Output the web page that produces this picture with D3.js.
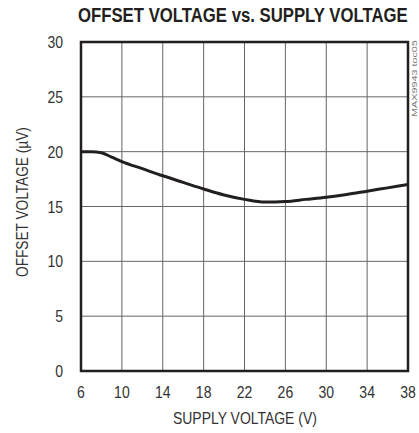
<!DOCTYPE html>
<html><head><meta charset="utf-8">
<script src="https://cdn.jsdelivr.net/npm/d3@7"></script>
<style>body{margin:0;background:#fff}svg{display:block}</style>
</head><body>
<script>
const supplyV = [6, 7, 8, 9, 10, 12, 14, 16, 18, 20, 22, 24, 26, 28, 30, 32, 34, 36, 38];
const offsetUV = [20.0, 20.0, 19.9, 19.5, 19.1, 18.45, 17.8, 17.2, 16.6, 16.05, 15.65, 15.4, 15.45, 15.65, 15.85, 16.1, 16.4, 16.7, 17.0];
const xTicks = [6, 10, 14, 18, 22, 26, 30, 34, 38];
const yTicks = [0, 5, 10, 15, 20, 25, 30];
const title = "OFFSET VOLTAGE vs. SUPPLY VOLTAGE";
const xTitle = "SUPPLY VOLTAGE (V)";
const yTitle = "OFFSET VOLTAGE (µV)";
const tag = "MAX9943 toc05";

const W = 419, H = 433;
const m = {l: 81, r: 408, t: 42, b: 371};
const svg = d3.select("body").append("svg").attr("width", W).attr("height", H);
const x = d3.scaleLinear().domain([6, 38]).range([m.l, m.r]);
const y = d3.scaleLinear().domain([0, 30]).range([m.b, m.t]);
const font = "'Liberation Sans', Arial, sans-serif";
const txt = "#333";

// grid
svg.append("g").selectAll("line").data(xTicks.slice(1, -1)).join("line")
  .attr("x1", d => x(d)).attr("x2", d => x(d)).attr("y1", m.t).attr("y2", m.b)
  .attr("stroke", "#666").attr("stroke-width", 1);
svg.append("g").selectAll("line").data(yTicks.slice(1, -1)).join("line")
  .attr("y1", d => y(d)).attr("y2", d => y(d)).attr("x1", m.l).attr("x2", m.r)
  .attr("stroke", "#666").attr("stroke-width", 1);

// curve
svg.append("path").datum(supplyV.map((v, i) => [v, offsetUV[i]]))
  .attr("d", d3.line().x(d => x(d[0])).y(d => y(d[1])).curve(d3.curveMonotoneX))
  .attr("fill", "none").attr("stroke", "#231f20").attr("stroke-width", 3);

// border
svg.append("rect").attr("x", m.l).attr("y", m.t).attr("width", m.r - m.l).attr("height", m.b - m.t)
  .attr("fill", "none").attr("stroke", "#231f20").attr("stroke-width", 2.5);

// tick labels
svg.append("g").selectAll("text").data(yTicks).join("text")
  .attr("transform", d => `translate(63,${y(d) + 6}) scale(0.85,1)`).attr("text-anchor", "end")
  .attr("font-family", font).attr("font-size", 16.5).attr("fill", txt).text(d => d);
svg.append("g").selectAll("text").data(xTicks).join("text")
  .attr("transform", d => `translate(${x(d)},398) scale(0.85,1)`).attr("text-anchor", "middle")
  .attr("font-family", font).attr("font-size", 16.5).attr("fill", txt).text(d => d);

// fitted text: scale horizontally to a target width
function fitted(str, tx, ty, rot, width, size, weight, fill) {
  const t = svg.append("text").attr("font-family", font).attr("font-size", size)
    .attr("font-weight", weight).attr("fill", fill).text(str);
  const nat = t.node().getComputedTextLength();
  t.attr("transform", `translate(${tx},${ty}) rotate(${rot}) scale(${width / nat},1)`);
  return t;
}
fitted(title, 78, 22, 0, 330, 19.5, "bold", "#231f20");
fitted(xTitle, 173, 424, 0, 144, 16.5, "normal", txt);
fitted(yTitle, 28, 277, -90, 150, 16.5, "normal", txt);
fitted(tag, 417, 117, -90, 77, 8, "normal", "#777");
</script>
</body></html>
